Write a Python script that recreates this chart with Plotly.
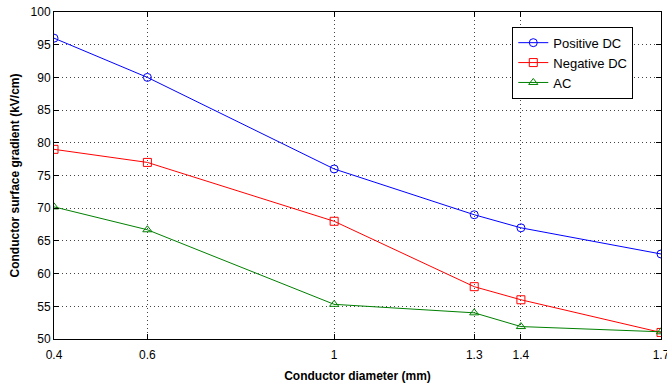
import plotly.graph_objects as go

# Conductor diameter (mm) and surface gradient (kV/cm) for each voltage type
diameter = [0.4, 0.6, 1.0, 1.3, 1.4, 1.7]
positive_dc = [96, 90, 76, 69, 67, 63]
negative_dc = [79, 77, 68, 58, 56, 51]
ac = [70.2, 66.7, 55.3, 54.0, 51.9, 51.1]

x_ticks = [0.4, 0.6, 1, 1.3, 1.4, 1.7]
x_tick_text = ["0.4", "0.6", "1", "1.3", "1.4", "1.7"]
y_ticks = list(range(50, 101, 5))

series = [
    ("Positive DC", positive_dc, "#0000ff", "circle-open"),
    ("Negative DC", negative_dc, "#ff0000", "square-open"),
    ("AC", ac, "#008000", "triangle-up-open"),
]

fig = go.Figure()
for name, vals, color, symbol in series:
    fig.add_trace(go.Scatter(
        x=diameter, y=vals, name=name, mode="lines+markers",
        line=dict(color=color, width=1),
        marker=dict(symbol=symbol, size=8, color=color, line=dict(width=1, color=color)),
    ))

font_family = "Liberation Sans, Arial"
axis_common = dict(
    showline=True, linecolor="#000000", linewidth=1, mirror="allticks",
    ticks="inside", ticklen=5, tickcolor="#000000",
    showgrid=True, gridcolor="#444444", griddash="1px,3px", gridwidth=1,
    zeroline=False, automargin=False,
    tickfont=dict(family=font_family, size=12, color="#000000"),
)

fig.update_xaxes(
    range=[0.4, 1.70001], tickvals=x_ticks, ticktext=x_tick_text,
    ticklabeloverflow="allow", ticklabelstandoff=5,
    title=dict(text="<b>Conductor diameter (mm)</b>", font=dict(family=font_family, size=12, color="#000000"), standoff=10),
    **axis_common,
)
fig.update_yaxes(
    range=[50, 100], tickvals=y_ticks,
    title=dict(text="<b>Conductor surface gradient (kV/cm)</b>", font=dict(family=font_family, size=12, color="#000000"), standoff=8),
    **axis_common,
)

fig.update_layout(
    width=667, height=385,
    margin=dict(l=54, r=6, t=12, b=46),
    paper_bgcolor="#ffffff", plot_bgcolor="#ffffff",
    showlegend=True,
    legend=dict(
        x=0.755, y=0.955, xanchor="left", yanchor="top",
        bgcolor="#ffffff", bordercolor="#000000", borderwidth=1,
        font=dict(family=font_family, size=13, color="#000000"),
        tracegroupgap=0, itemwidth=30,
    ),
)

fig.write_html("out.html")
